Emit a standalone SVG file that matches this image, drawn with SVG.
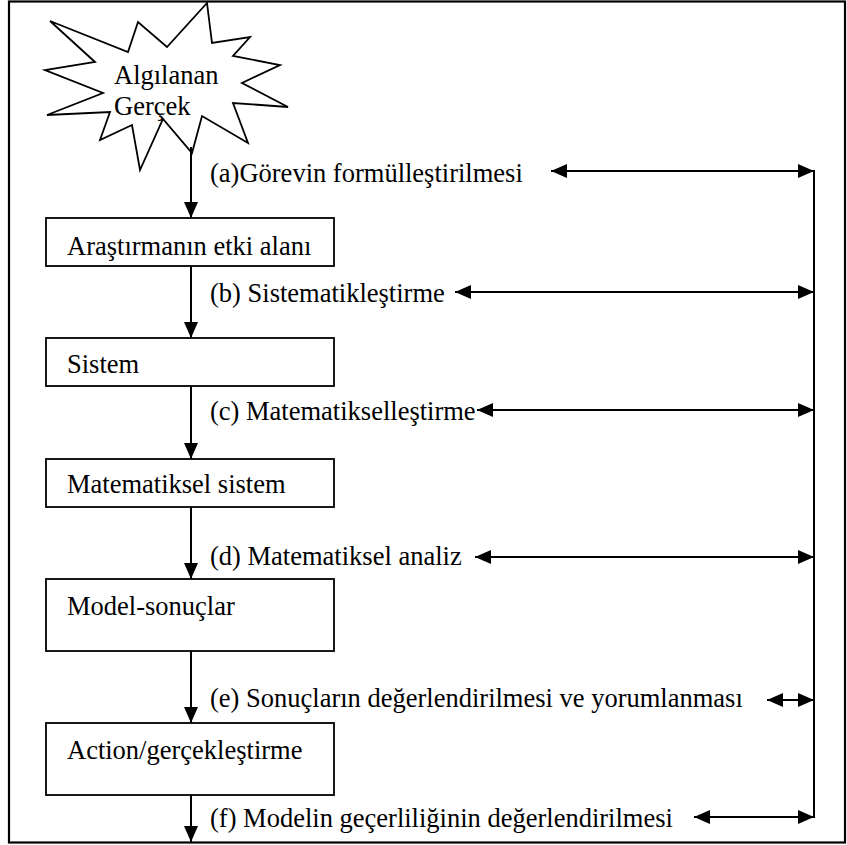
<svg xmlns="http://www.w3.org/2000/svg" width="847" height="845" viewBox="0 0 847 845">
<defs>
<style>
.t{font-family:"Liberation Serif","Times New Roman",serif;font-size:26.5px;fill:#000}
.box{fill:#fff;stroke:#000;stroke-width:1.8}
.c{fill:none;stroke:#000;stroke-width:2}
.d{fill:none;stroke:#000;stroke-width:2;marker-end:url(#ah)}
.dd{fill:none;stroke:#000;stroke-width:2;marker-start:url(#ah);marker-end:url(#ah)}
</style>
<marker id="ah" markerUnits="userSpaceOnUse" markerWidth="16" markerHeight="14" refX="16" refY="7" orient="auto-start-reverse">
<path d="M0,0 L16,7 L0,14 z" fill="#000"/>
</marker>
</defs>
<rect x="0" y="0" width="847" height="845" fill="#fff"/>
<rect x="9" y="1.5" width="836" height="841" fill="none" stroke="#000" stroke-width="2.2"/>

<g id="star">
<polygon class="box" points="207,3 212,43 250,37 233,56 280,65 242,83 288,107 233,103 248,143 202,116 192,153 163,119 140,170 132,125 100,140 110,112 47,115 103,93 45,70 95,62 50,21 128,52 138,22 167,47"/>
<text class="t" x="114" y="84">Algılanan</text>
<text class="t" x="114" y="115">Gerçek</text>
</g>

<g id="n1">
<rect class="box" x="46" y="218" width="288" height="48"/>
<text class="t" x="67" y="255">Araştırmanın etki alanı</text>
</g>
<g id="n2">
<rect class="box" x="46" y="338" width="288" height="48"/>
<text class="t" x="67" y="373">Sistem</text>
</g>
<g id="n3">
<rect class="box" x="46" y="459" width="288" height="48"/>
<text class="t" x="67" y="493">Matematiksel sistem</text>
</g>
<g id="n4">
<rect class="box" x="46" y="579" width="288" height="72"/>
<text class="t" x="67" y="615">Model-sonuçlar</text>
</g>
<g id="n5">
<rect class="box" x="46" y="723" width="288" height="72"/>
<text class="t" x="67" y="759">Action/gerçekleştirme</text>
</g>

<g id="connectors">
<line class="d" x1="191" y1="147" x2="191" y2="218"/>
<line class="d" x1="191" y1="266" x2="191" y2="338"/>
<line class="d" x1="191" y1="386" x2="191" y2="459"/>
<line class="d" x1="191" y1="507" x2="191" y2="579"/>
<line class="d" x1="191" y1="651" x2="191" y2="723"/>
<line class="d" x1="191" y1="795" x2="191" y2="842"/>

<line class="c" x1="814" y1="170" x2="814" y2="818"/>
<line class="dd" x1="551" y1="171" x2="814" y2="171"/>
<line class="dd" x1="455" y1="292" x2="814" y2="292"/>
<line class="dd" x1="477" y1="410" x2="814" y2="410"/>
<line class="dd" x1="475" y1="557" x2="814" y2="557"/>
<line class="dd" x1="767" y1="700" x2="814" y2="700"/>
<line class="dd" x1="694" y1="817" x2="814" y2="817"/>
</g>

<g id="labels">
<text class="t" x="210" y="182">(a)Görevin formülleştirilmesi</text>
<text class="t" x="210" y="302">(b) Sistematikleştirme</text>
<text class="t" x="210" y="420">(c) Matematikselleştirme</text>
<text class="t" x="210" y="565">(d) Matematiksel analiz</text>
<text class="t" x="210" y="707">(e) Sonuçların değerlendirilmesi ve yorumlanması</text>
<text class="t" x="210" y="827">(f) Modelin geçerliliğinin değerlendirilmesi</text>
</g>
</svg>
